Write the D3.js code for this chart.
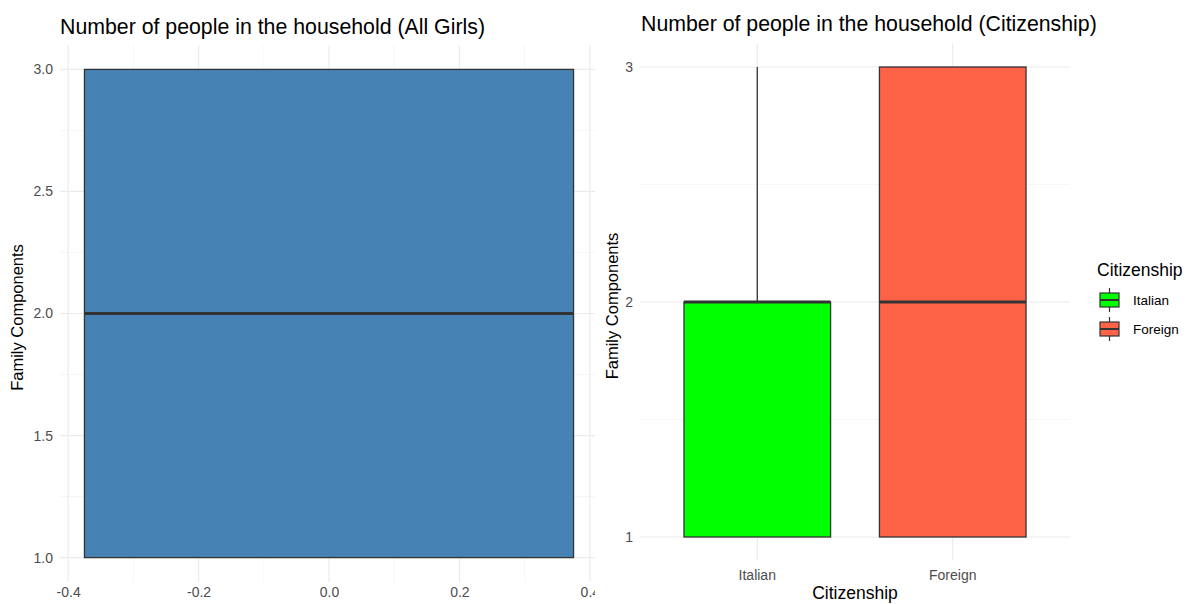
<!DOCTYPE html>
<html>
<head>
<meta charset="utf-8">
<script src="https://cdn.jsdelivr.net/npm/d3@7"></script>
<style>
  html, body { margin: 0; padding: 0; background: #fff; }
  svg { display: block; font-family: "Liberation Sans", Arial, Helvetica, sans-serif; }
</style>
</head>
<body>
<svg id="chart" width="1190" height="604"></svg>
<script>
// Box summaries: [min, q1, median, q3, max]
const allGirlsStats = [1, 1, 2, 3, 3];
const allGirlsXTicks = [-0.4, -0.2, 0.0, 0.2, 0.4];
const allGirlsYTicks = [1.0, 1.5, 2.0, 2.5, 3.0];

const citizenshipCats = ["Italian", "Foreign"];
const citizenshipStats = [
  [1, 1, 2, 2, 3],
  [1, 1, 2, 3, 3]
];
const citizenshipColors = ["#00FF00", "#FF6347"];
const citizenshipYTicks = [1, 2, 3];

const svg = d3.select("#chart");
const gridMajor = "#ebebeb", gridMinor = "#f4f4f4";
const outline = "#333333", tickText = "#4d4d4d";
const tickSize = "14px", titleSize = "21.3px";

// the left panel is cut off where the right panel begins
svg.append("defs").append("clipPath").attr("id", "leftClip")
  .append("rect").attr("x", 0).attr("y", 0).attr("width", 595).attr("height", 604);

// ---- Left panel: all girls ----
const L = { left: 60, right: 598, top: 45, bottom: 582 };
const xL = d3.scaleLinear().domain([-0.4125, 0.4125]).range([L.left, L.right]);
const yL = d3.scaleLinear().domain([0.9, 3.1]).range([L.bottom, L.top]);

const gL = svg.append("g").attr("clip-path", "url(#leftClip)");
// minor grid
[-0.3, -0.1, 0.1, 0.3].forEach(v => gL.append("line")
  .attr("x1", xL(v)).attr("x2", xL(v)).attr("y1", L.top).attr("y2", L.bottom)
  .attr("stroke", gridMinor).attr("stroke-width", 0.8));
[1.25, 1.75, 2.25, 2.75].forEach(v => gL.append("line")
  .attr("x1", L.left).attr("x2", L.right).attr("y1", yL(v)).attr("y2", yL(v))
  .attr("stroke", gridMinor).attr("stroke-width", 0.8));
// major grid
allGirlsXTicks.forEach(v => gL.append("line")
  .attr("x1", xL(v)).attr("x2", xL(v)).attr("y1", L.top).attr("y2", L.bottom)
  .attr("stroke", gridMajor).attr("stroke-width", 1.2));
allGirlsYTicks.forEach(v => gL.append("line")
  .attr("x1", L.left).attr("x2", L.right).attr("y1", yL(v)).attr("y2", yL(v))
  .attr("stroke", gridMajor).attr("stroke-width", 1.2));

// axes (labels only)
const axLx = d3.axisBottom(xL).tickValues(allGirlsXTicks).tickFormat(d3.format(".1f")).tickSize(0).tickPadding(5);
const gax = gL.append("g").attr("transform", `translate(0,${L.bottom})`).call(axLx);
gax.select(".domain").remove();
gax.selectAll("text").attr("fill", tickText).style("font-size", tickSize)
  .text(d => d3.format(".1f")(d).replace("−", "-"));
const axLy = d3.axisLeft(yL).tickValues(allGirlsYTicks).tickFormat(d3.format(".1f")).tickSize(0).tickPadding(7);
const gay = gL.append("g").attr("transform", `translate(${L.left},0)`).call(axLy);
gay.select(".domain").remove();
gay.selectAll("text").attr("fill", tickText).style("font-size", tickSize);

// box
{
  const [mn, q1, md, q3, mx] = allGirlsStats;
  const x0 = xL(-0.375), x1 = xL(0.375), xc = xL(0);
  if (mx > q3) gL.append("line").attr("x1", xc).attr("x2", xc).attr("y1", yL(q3)).attr("y2", yL(mx)).attr("stroke", outline).attr("stroke-width", 1.3);
  if (mn < q1) gL.append("line").attr("x1", xc).attr("x2", xc).attr("y1", yL(q1)).attr("y2", yL(mn)).attr("stroke", outline).attr("stroke-width", 1.3);
  gL.append("rect").attr("x", x0).attr("y", yL(q3)).attr("width", x1 - x0).attr("height", yL(q1) - yL(q3))
    .attr("fill", "#4682B4").attr("stroke", outline).attr("stroke-width", 1.3);
  gL.append("line").attr("x1", x0).attr("x2", x1).attr("y1", yL(md)).attr("y2", yL(md))
    .attr("stroke", outline).attr("stroke-width", 3);
}

gL.append("text").attr("x", 60).attr("y", 34).attr("font-size", titleSize).attr("fill", "#000")
  .text("Number of people in the household (All Girls)");
gL.append("text").attr("transform", `translate(23,${(L.top + L.bottom) / 2 + 4}) rotate(-90)`)
  .attr("text-anchor", "middle").attr("font-size", "16.5px").attr("fill", "#000").text("Family Components");

// ---- Right panel: citizenship ----
const R = { left: 640, right: 1070, top: 43.5, bottom: 560.5 };
// discrete positions 1..n with 0.6 expansion on both sides
const xRc = d3.scaleLinear().domain([0.4, citizenshipCats.length + 0.6]).range([R.left, R.right]);
const cx = c => xRc(citizenshipCats.indexOf(c) + 1);
const yR = d3.scaleLinear().domain([0.9, 3.1]).range([R.bottom, R.top]);

const gR = svg.append("g");
[1.5, 2.5].forEach(v => gR.append("line")
  .attr("x1", R.left).attr("x2", R.right).attr("y1", yR(v)).attr("y2", yR(v))
  .attr("stroke", gridMinor).attr("stroke-width", 0.8));
citizenshipYTicks.forEach(v => gR.append("line")
  .attr("x1", R.left).attr("x2", R.right).attr("y1", yR(v)).attr("y2", yR(v))
  .attr("stroke", gridMajor).attr("stroke-width", 1.2));
citizenshipCats.forEach(c => gR.append("line")
  .attr("x1", cx(c)).attr("x2", cx(c)).attr("y1", R.top).attr("y2", R.bottom)
  .attr("stroke", gridMajor).attr("stroke-width", 1.2));

const axRy = d3.axisLeft(yR).tickValues(citizenshipYTicks).tickFormat(d3.format("d")).tickSize(0).tickPadding(7);
const gry = gR.append("g").attr("transform", `translate(${R.left},0)`).call(axRy);
gry.select(".domain").remove();
gry.selectAll("text").attr("fill", tickText).style("font-size", tickSize);

const grx = gR.append("g").attr("transform", `translate(0,${R.bottom})`);
citizenshipCats.forEach(c => grx.append("text").attr("x", cx(c)).attr("y", 19.5)
  .attr("text-anchor", "middle").attr("fill", tickText).attr("font-size", tickSize).text(c));

citizenshipStats.forEach((s, i) => {
  const [mn, q1, md, q3, mx] = s;
  const c = citizenshipCats[i];
  const xc = cx(c);
  const hw = (xRc(1.375) - xRc(1));
  if (mx > q3) gR.append("line").attr("x1", xc).attr("x2", xc).attr("y1", yR(q3)).attr("y2", yR(mx)).attr("stroke", outline).attr("stroke-width", 1.3);
  if (mn < q1) gR.append("line").attr("x1", xc).attr("x2", xc).attr("y1", yR(q1)).attr("y2", yR(mn)).attr("stroke", outline).attr("stroke-width", 1.3);
  gR.append("rect").attr("x", xc - hw).attr("y", yR(q3)).attr("width", 2 * hw).attr("height", yR(q1) - yR(q3))
    .attr("fill", citizenshipColors[i]).attr("stroke", outline).attr("stroke-width", 1.3);
  gR.append("line").attr("x1", xc - hw).attr("x2", xc + hw).attr("y1", yR(md)).attr("y2", yR(md))
    .attr("stroke", outline).attr("stroke-width", 3);
});

gR.append("text").attr("x", 641).attr("y", 31).attr("font-size", titleSize).attr("fill", "#000")
  .text("Number of people in the household (Citizenship)");
gR.append("text").attr("transform", `translate(618,${(R.top + R.bottom) / 2 + 4}) rotate(-90)`)
  .attr("text-anchor", "middle").attr("font-size", "16.5px").attr("fill", "#000").text("Family Components");
gR.append("text").attr("x", (R.left + R.right) / 2).attr("y", 599)
  .attr("text-anchor", "middle").attr("font-size", "17.5px").attr("fill", "#000").text("Citizenship");

// legend
const lg = svg.append("g").attr("transform", "translate(1097,0)");
lg.append("text").attr("x", 0).attr("y", 276).attr("font-size", "17.5px").attr("fill", "#000").text("Citizenship");
citizenshipCats.forEach((c, i) => {
  const y0 = 288 + i * 29;
  const k = lg.append("g").attr("transform", `translate(1,${y0})`);
  k.append("line").attr("x1", 11.5).attr("x2", 11.5).attr("y1", 0).attr("y2", 24).attr("stroke", outline).attr("stroke-width", 1.2);
  k.append("rect").attr("x", 2).attr("y", 5).attr("width", 19).attr("height", 14)
    .attr("fill", citizenshipColors[i]).attr("stroke", outline).attr("stroke-width", 1.2);
  k.append("line").attr("x1", 2).attr("x2", 21).attr("y1", 12).attr("y2", 12).attr("stroke", outline).attr("stroke-width", 2);
  lg.append("text").attr("x", 36).attr("y", y0 + 17).attr("font-size", "13.5px").attr("fill", "#000").text(c);
});
</script>
</body>
</html>
